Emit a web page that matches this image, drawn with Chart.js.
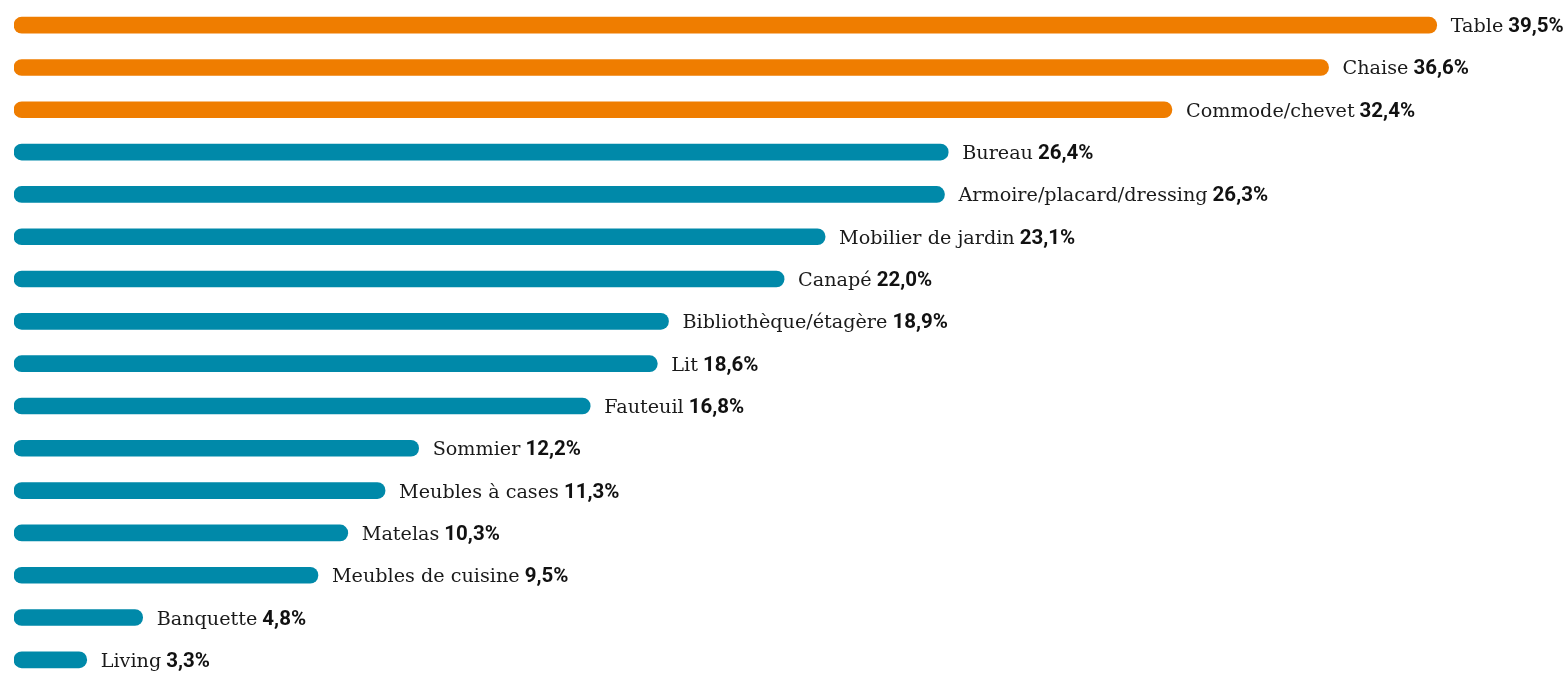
<!DOCTYPE html>
<html>
<head>
<meta charset="utf-8">
<script src="https://cdn.jsdelivr.net/npm/chart.js@4/dist/chart.umd.min.js"></script>
<style>
  html, body { margin: 0; padding: 0; background: #ffffff; overflow: hidden; width: 1568px; height: 673px; }
  #wrap { position: absolute; left: 0; top: 4px; width: 1568px; height: 677px; }
</style>
</head>
<body>
<div id="wrap"><canvas id="c"></canvas></div>
<script>
const categories = [
  "Table", "Chaise", "Commode/chevet", "Bureau", "Armoire/placard/dressing",
  "Mobilier de jardin", "Canapé", "Bibliothèque/étagère", "Lit", "Fauteuil",
  "Sommier", "Meubles à cases", "Matelas", "Meubles de cuisine", "Banquette", "Living"
];
const values = [39.5, 36.6, 32.4, 26.4, 26.3, 23.1, 22.0, 18.9, 18.6, 16.8, 12.2, 11.3, 10.3, 9.5, 4.8, 3.3];
const highlightCount = 3;

const ORANGE = "#EF7D00";
const TEAL = "#0089A9";

function fmt(v) { return v.toFixed(1).replace(".", ",") + "%"; }

const labelPlugin = {
  id: "barLabels",
  afterDatasetsDraw(chart) {
    const ctx = chart.ctx;
    const meta = chart.getDatasetMeta(0);
    ctx.save();
    meta.data.forEach((el, i) => {
      const x = el.x + 14;
      const y = el.y + 7;
      ctx.textBaseline = "alphabetic";
      ctx.textAlign = "left";
      ctx.fillStyle = "#1a1a1a";
      ctx.font = "19.2px 'DejaVu Serif'";
      const name = categories[i];
      ctx.fillText(name, x, y);
      const w = ctx.measureText(name).width;
      ctx.font = "bold 20.5px Roboto";
      ctx.fillStyle = "#111111";
      ctx.fillText(fmt(values[i]), x + w + 5, y);
    });
    ctx.restore();
  }
};

new Chart(document.getElementById("c"), {
  type: "bar",
  data: {
    labels: categories,
    datasets: [{
      data: values,
      base: 1.35,
      backgroundColor: (c) => c.dataIndex < highlightCount ? ORANGE : TEAL,
      barThickness: 16,
      borderRadius: 8,
      borderSkipped: false
    }]
  },
  options: {
    indexAxis: "y",
    responsive: true,
    maintainAspectRatio: false,
    animation: false,
    layout: { padding: { left: 14, right: 0, top: 0, bottom: 0 } },
    plugins: { legend: { display: false }, tooltip: { enabled: false } },
    scales: {
      x: { display: false, min: 1.35, max: 43.02 },
      y: { display: false }
    }
  },
  plugins: [labelPlugin]
});
</script>
</body>
</html>
